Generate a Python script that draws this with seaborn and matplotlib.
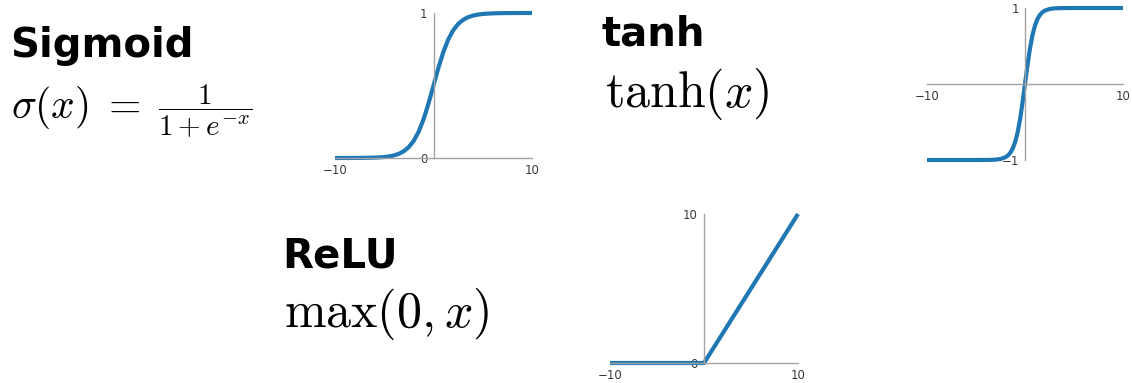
import matplotlib
matplotlib.use("Agg")
import matplotlib.pyplot as plt
import seaborn as sns

# --- data -------------------------------------------------------------
sigmoid_x = [-10, -9, -8, -7, -6, -5.5, -5, -4.5, -4, -3.5, -3, -2.5, -2, -1.5,
             -1, -0.5, 0, 0.5, 1, 1.5, 2, 2.5, 3, 3.5, 4, 4.5, 5, 5.5, 6, 7, 8,
             9, 10]
sigmoid_y = [0.0000, 0.0001, 0.0003, 0.0009, 0.0025, 0.0041, 0.0067, 0.0110,
             0.0180, 0.0293, 0.0474, 0.0759, 0.1192, 0.1824, 0.2689, 0.3775,
             0.5000, 0.6225, 0.7311, 0.8176, 0.8808, 0.9241, 0.9526, 0.9707,
             0.9820, 0.9890, 0.9933, 0.9959, 0.9975, 0.9991, 0.9997, 0.9999,
             1.0000]

tanh_x = [-10, -8, -6, -5, -4, -3.5, -3, -2.5, -2, -1.75, -1.5, -1.25, -1,
          -0.75, -0.5, -0.25, 0, 0.25, 0.5, 0.75, 1, 1.25, 1.5, 1.75, 2, 2.5,
          3, 3.5, 4, 5, 6, 8, 10]
tanh_y = [-1.0000, -1.0000, -1.0000, -0.9999, -0.9993, -0.9982, -0.9951,
          -0.9866, -0.9640, -0.9414, -0.9051, -0.8483, -0.7616, -0.6351,
          -0.4621, -0.2449, 0.0000, 0.2449, 0.4621, 0.6351, 0.7616, 0.8483,
          0.9051, 0.9414, 0.9640, 0.9866, 0.9951, 0.9982, 0.9993, 0.9999,
          1.0000, 1.0000, 1.0000]

relu_x = [-10, 0, 10]
relu_y = [0, 0, 10]

sigmoid_yticks = [0, 1]
tanh_yticks = [-1, 1]
relu_yticks = [0, 10]
x_ticks = [-10, 10]

# --- style ------------------------------------------------------------
sns.set_style("white")
plt.rcParams["font.family"] = ["DejaVu Sans"]
plt.rcParams["mathtext.fontset"] = "cm"

W, H = 1132, 383
fig = plt.figure(figsize=(W / 100, H / 100), dpi=100)

LINE = "#1f77b4"
SPINE = "#a3a3a3"
TICKTXT = "#3a3a3a"


def px_axes(left, top, right, bottom):
    return fig.add_axes([left / W, 1 - bottom / H, (right - left) / W,
                         (bottom - top) / H])


def style_axes(ax, xs, ys, yticks, ylim, hzero):
    sns.lineplot(x=xs, y=ys, ax=ax, color=LINE, linewidth=3.0,
                 clip_on=False, solid_capstyle="butt", estimator=None)
    ax.set_xlim(-10, 10)
    ax.set_ylim(*ylim)
    ax.set_xticks(x_ticks)
    ax.set_yticks(yticks)
    ax.set_facecolor("none")
    for s in ("top", "right"):
        ax.spines[s].set_visible(False)
    ax.spines["left"].set_position(("data", 0))
    if hzero:
        ax.spines["bottom"].set_position(("data", 0))
    for s in ("left", "bottom"):
        ax.spines[s].set_color(SPINE)
        ax.spines[s].set_linewidth(1.0)
    ax.tick_params(axis="both", length=3, width=0.8, color=SPINE,
                   labelsize=8.5, labelcolor=TICKTXT, pad=1.5, direction="out")
    ax.grid(False)


ax1 = px_axes(335, 13, 532, 158)
style_axes(ax1, sigmoid_x, sigmoid_y, sigmoid_yticks, (0, 1), False)

ax2 = px_axes(927, 8, 1123, 160)
style_axes(ax2, tanh_x, tanh_y, tanh_yticks, (-1, 1), True)

ax3 = px_axes(610, 214, 798, 363)
style_axes(ax3, relu_x, relu_y, relu_yticks, (0, 10), False)

# --- labels -----------------------------------------------------------
def fig_text(x, y, s, **kw):
    fig.text(x / W, 1 - y / H, s, ha="left", va="baseline", color="black", **kw)


fig_text(10, 57, "Sigmoid", fontsize=29, fontweight="bold")
fig_text(11, 117, r"$\sigma(x)\;=\;\genfrac{}{}{0.5}{1}{1}{1+e^{-x}}$",
         fontsize=30)

fig_text(602, 45, "tanh", fontsize=29, fontweight="bold")
fig_text(605, 107, r"$\tanh(x)$", fontsize=36)

fig_text(282, 267, "ReLU", fontsize=29, fontweight="bold")
fig_text(284, 327, r"$\max(0, x)$", fontsize=36)

fig.savefig("out.png", dpi=100, facecolor="white")
